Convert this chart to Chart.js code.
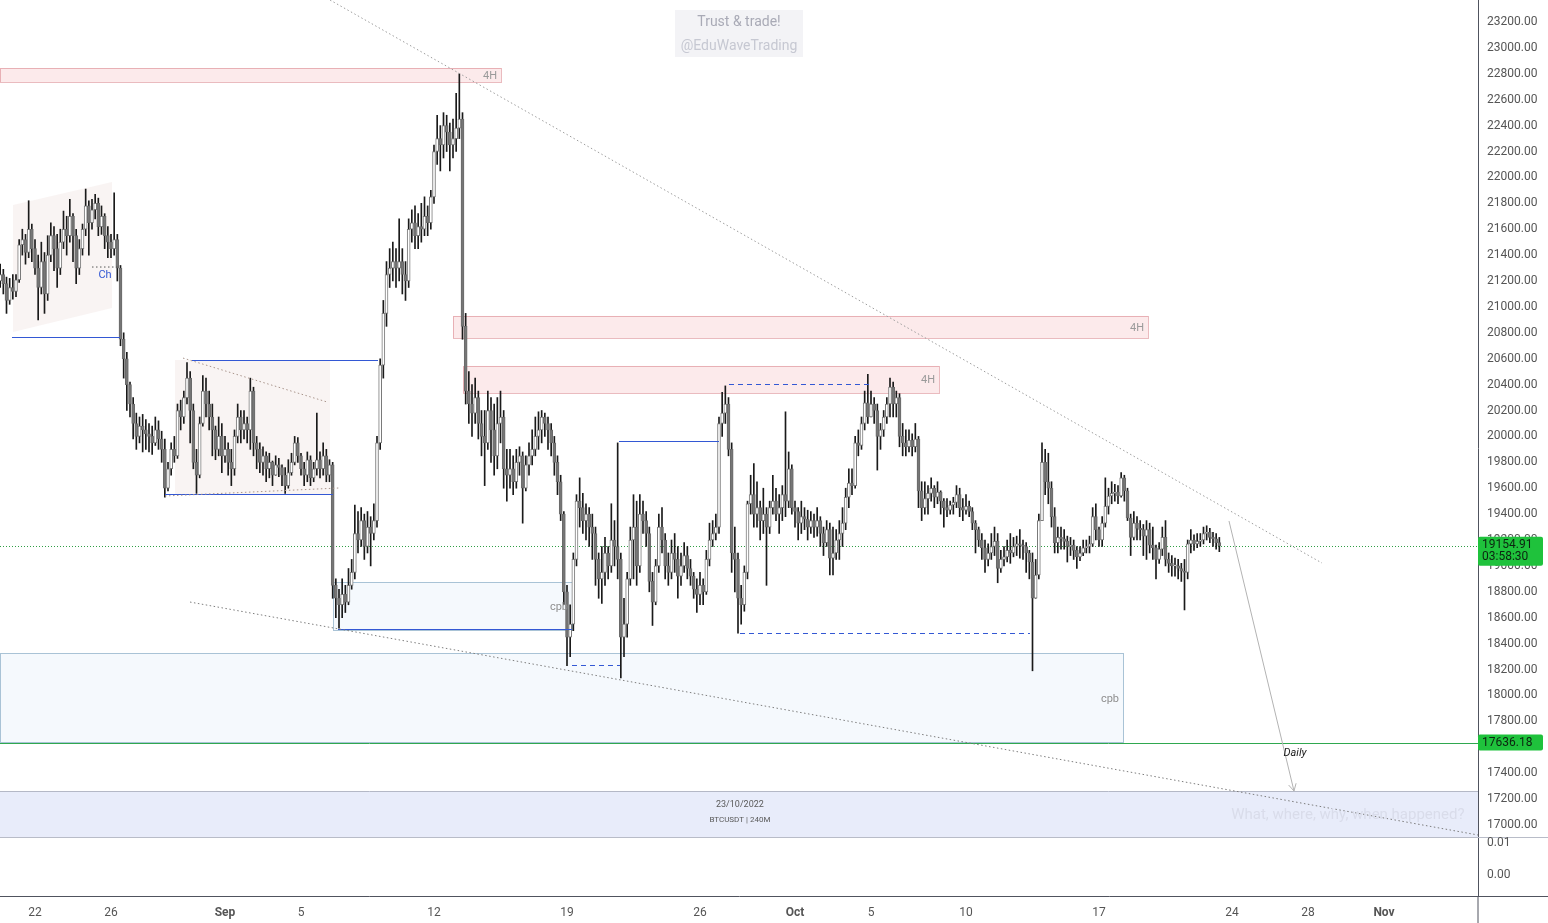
<!DOCTYPE html>
<html><head><meta charset="utf-8">
<script src="https://cdn.jsdelivr.net/npm/chart.js@4.4.0/dist/chart.umd.min.js"></script>
<style>html,body{margin:0;padding:0;background:#fff;overflow:hidden}canvas{display:block}</style>
</head><body>
<canvas id="c" width="1548" height="923"></canvas>
<script>
// ---------------- DATA (BTCUSDT, 4H candles) ----------------
const firstCandleUTC = Date.UTC(2022, 7, 20, 4);   // Aug 20, 04:00
const axisOriginUTC  = Date.UTC(2022, 7, 22);      // x = 0 at Aug 22
const candleHours = 4;
const firstOpen = 21200;

const closes = [
 21250,21180,21050,21150,21120,                 // Aug 20
 21210,21480,21520,21420,21600,21450,           // Aug 21
 21300,21150,21350,21100,21400,21550,           // Aug 22
 21450,21300,21500,21600,21550,21700,           // Aug 23
 21550,21300,21450,21600,21780,21650,           // Aug 24
 21750,21800,21620,21700,21550,21500,           // Aug 25
 21450,21520,21300,20750,20600,20400,           // Aug 26
 20250,20100,20000,20080,20050,20020,           // Aug 27
 20000,19950,20050,19980,19900,19600,           // Aug 28
 19750,19900,19850,20200,20150,20300,           // Aug 29
 20450,20200,19800,19700,20100,20350,           // Aug 30
 20250,20150,20050,19900,20000,19850,           // Aug 31
 19900,19800,19750,20000,20150,20050,           // Sep 1
 20100,20050,20350,19950,19900,19800,           // Sep 2
 19850,19750,19800,19700,19780,19760,           // Sep 3
 19700,19620,19720,19800,19950,19850,           // Sep 4
 19750,19700,19820,19680,19750,19820,           // Sep 5
 19750,19850,19700,19780,18850,18750,           // Sep 6
 18700,18780,18720,18850,18950,19250,           // Sep 7
 19200,19350,19150,19300,19250,19350,           // Sep 8
 19950,20550,20950,21250,21300,21350,           // Sep 9
 21300,21350,21250,21200,21600,21650,           // Sep 10
 21550,21620,21600,21700,21650,21850,           // Sep 11
 22200,22300,22250,22400,22350,22250,           // Sep 12
 22300,22380,22450,20850,20350,20250,           // Sep 13
 20180,20300,20100,20000,19950,20200,           // Sep 14
 20050,19850,20100,20150,19750,19700,           // Sep 15
 19750,19650,19800,19850,19600,19780,           // Sep 16
 19850,19900,20000,20050,20150,20100,           // Sep 17
 20050,19950,19800,19650,19400,18800,           // Sep 18
 18450,18550,19050,19500,19450,19350,           // Sep 19
 19400,19300,19250,19050,18900,18950,           // Sep 20
 19100,19000,19200,19150,19050,18450,           // Sep 21
 18550,18900,19200,19300,19000,19400,           // Sep 22
 19350,19250,18880,18720,19000,19300,           // Sep 23
 19200,19000,18950,19100,19050,18920,           // Sep 24
 19000,19080,18980,18920,18820,18780,           // Sep 25
 18850,18800,19050,19200,19250,19300,           // Sep 26
 20100,20180,20250,19900,19100,19050,           // Sep 27
 18750,18700,18950,19480,19550,19400,           // Sep 28
 19450,19350,19400,19300,19450,19500,           // Sep 29
 19400,19450,19550,19500,19750,19450,           // Sep 30
 19420,19330,19380,19360,19300,19350,           // Oct 1
 19300,19350,19250,19180,19280,19060,           // Oct 2
 19100,19200,19250,19330,19530,19640,           // Oct 3
 19620,19950,19930,20100,20260,20150,           // Oct 4
 20250,20200,20000,20050,20150,20250,           // Oct 5
 20380,20250,20300,20000,19950,19920,           // Oct 6
 19970,19920,19980,19580,19450,19520,           // Oct 7
 19560,19600,19530,19570,19500,19450,           // Oct 8
 19430,19470,19490,19550,19450,19430,           // Oct 9
 19460,19420,19330,19280,19200,19140,           // Oct 10
 19050,19100,19150,19190,18980,19050,           // Oct 11
 19070,19120,19100,19150,19170,19160,           // Oct 12
 19150,19100,19030,18750,18930,19350,           // Oct 13
 19800,19650,19600,19380,19180,19220,           // Oct 14
 19210,19190,19150,19160,19120,19070,           // Oct 15
 19100,19140,19150,19170,19380,19280,           // Oct 16
 19200,19330,19460,19540,19560,19570,           // Oct 17
 19540,19680,19580,19370,19220,19330,           // Oct 18
 19290,19280,19230,19280,19160,19140,           // Oct 19
 19050,19130,19220,19050,19020,19000,           // Oct 20
 19000,18980,18960,18950,19170,19200,           // Oct 21
 19170,19190,19200,19250,19260,19220,           // Oct 22
 19210,19180,19154.91                           // Oct 23
];
const highs = [
 21330,21290,21230,21220,21250,
 21250,21520,21600,21560,21820,21640,
 21520,21400,21500,21420,21550,21650,
 21620,21560,21600,21740,21700,21830,
 21720,21600,21520,21640,21910,21820,
 21830,21870,21840,21780,21720,21620,
 21560,21880,21560,21320,20800,20650,
 20420,20300,20180,20150,20170,20130,
 20100,20080,20150,20120,20040,19980,
 19800,19950,20000,20250,20280,20350,
 20570,20500,20250,19900,20150,20470,
 20450,20350,20250,20080,20150,20100,
 20000,19950,19900,20050,20250,20200,
 20200,20150,20450,20380,20000,19950,
 19920,19880,19870,19810,19850,19830,
 19780,19760,19820,19870,20000,19990,
 19870,19800,19880,19850,19800,20180,
 19880,19950,19900,19820,19800,18900,
 18820,18900,18850,18980,19050,19470,
 19420,19450,19400,19420,19380,19480,
 20000,20600,21050,21350,21450,21500,
 21450,21680,21450,21350,21680,21750,
 21780,21720,21800,21850,21780,21900,
 22250,22480,22400,22500,22480,22420,
 22450,22650,22800,22500,20950,20500,
 20400,20450,20350,20200,20200,20350,
 20300,20250,20300,20350,20200,19900,
 19900,19850,19900,19920,19880,19850,
 19950,20050,20150,20190,20200,20180,
 20150,20100,20000,19850,19700,19420,
 18850,18700,19100,19550,19680,19560,
 19480,19450,19400,19300,19100,19150,
 19220,19150,19480,19350,19950,19100,
 18750,18950,19300,19550,19500,19550,
 19500,19420,19300,18950,19050,19400,
 19450,19250,19100,19200,19250,19150,
 19100,19180,19150,19050,18950,18900,
 18950,18900,19120,19330,19350,19400,
 20150,20340,20390,20300,19950,19300,
 19100,18850,19000,19500,19700,19790,
 19650,19500,19600,19450,19500,19700,
 19600,19550,19620,20190,19880,19780,
 19500,19450,19500,19450,19430,19420,
 19400,19450,19380,19300,19350,19330,
 19300,19280,19350,19450,19600,19750,
 19750,20000,20050,20150,20350,20480,
 20350,20300,20250,20100,20200,20300,
 20450,20420,20350,20330,20100,20050,
 20050,20020,20100,20000,19650,19650,
 19620,19680,19620,19650,19580,19520,
 19520,19500,19530,19620,19600,19520,
 19550,19500,19450,19350,19300,19250,
 19200,19170,19250,19300,19250,19120,
 19150,19200,19250,19220,19230,19280,
 19200,19180,19120,19100,19050,19400,
 19950,19900,19870,19650,19450,19300,
 19300,19280,19230,19220,19200,19150,
 19150,19200,19200,19230,19450,19480,
 19300,19380,19680,19600,19650,19630,
 19620,19720,19700,19600,19400,19420,
 19380,19350,19320,19350,19330,19300,
 19160,19180,19300,19350,19100,19080,
 19060,19050,19020,19050,19200,19280,
 19240,19250,19250,19300,19310,19290,
 19260,19250,19220
];
const lows = [
 21150,21100,20950,21020,21060,
 21080,21190,21400,21330,21380,21350,
 21250,20900,21100,20950,21050,21350,
 21280,21150,21250,21450,21400,21500,
 21350,21180,21250,21400,21550,21400,
 21600,21680,21550,21560,21450,21380,
 21380,21400,21200,20700,20450,20200,
 20150,19980,19900,19950,19880,19900,
 19880,19860,19930,19900,19800,19530,
 19580,19700,19800,19830,20050,20100,
 20250,19950,19750,19560,19680,20080,
 20150,20050,19850,19820,19850,19720,
 19800,19700,19620,19700,19950,19950,
 19980,19950,19900,19850,19750,19720,
 19700,19650,19680,19620,19700,19690,
 19620,19560,19600,19700,19780,19800,
 19700,19620,19650,19620,19650,19700,
 19680,19700,19650,19650,18750,18600,
 18520,18600,18640,18700,18820,18900,
 19100,19150,19050,19100,19000,19200,
 19300,19900,20450,20850,21150,21200,
 21150,21200,21100,21050,21150,21500,
 21450,21450,21500,21550,21550,21600,
 21800,22100,22050,22150,22200,22050,
 22150,22200,22300,20750,20250,20100,
 20000,20100,19980,19850,19620,19900,
 19800,19700,19750,19950,19600,19500,
 19600,19550,19600,19700,19330,19580,
 19700,19780,19850,19900,19950,20000,
 19900,19850,19700,19550,19350,18700,
 18230,18300,18500,19000,19300,19250,
 19200,19150,19050,18850,18750,18710,
 18850,18900,18950,19000,18900,18135,
 18300,18450,18850,18900,18850,18950,
 19250,19150,18800,18540,18700,18950,
 19100,18900,18850,18900,18950,18750,
 18850,18950,18900,18850,18750,18640,
 18700,18700,18780,19000,19150,19200,
 19250,20000,20100,19850,18950,18800,
 18480,18550,18650,18900,19400,19300,
 19300,19200,19250,18850,19250,19400,
 19350,19250,19350,19380,19450,19400,
 19300,19200,19250,19280,19200,19250,
 19220,19230,19150,19080,19150,18930,
 18930,19050,19050,19150,19280,19450,
 19550,19600,19850,19900,20050,20100,
 20150,20100,19740,19900,20000,20100,
 20150,20150,20150,19920,19850,19850,
 19880,19850,19880,19450,19350,19400,
 19400,19500,19450,19480,19400,19300,
 19380,19400,19400,19450,19380,19350,
 19400,19380,19280,19100,19150,19050,
 18950,19000,19050,19080,18870,18950,
 19000,19030,19020,19070,19080,19060,
 19050,18950,18900,18190,18850,18900,
 19350,19550,19480,19300,19100,19100,
 19130,19130,19030,19080,19050,18980,
 19040,19080,19100,19100,19150,19200,
 19150,19150,19300,19400,19480,19500,
 19480,19530,19500,19350,19080,19200,
 19200,19200,19080,19050,19100,19050,
 18900,19020,19080,19000,18950,18920,
 18920,18900,18880,18660,18900,19100,
 19120,19140,19150,19170,19200,19180,
 19150,19130,19110
];

const tickDates  = ['2022-08-22','2022-08-26','2022-09-01','2022-09-05','2022-09-12','2022-09-19','2022-09-26','2022-10-01','2022-10-05','2022-10-10','2022-10-17','2022-10-24','2022-10-28','2022-11-01'];
const tickLabels = ['22','26','Sep','5','12','19','26','Oct','5','10','17','24','28','Nov'];
const monthLabels = ['Sep','Oct','Nov'];
const priceTicks = [23200,23000,22800,22600,22400,22200,22000,21800,21600,21400,21200,21000,20800,20600,20400,20200,20000,19800,19600,19400,19200,19000,18800,18600,18400,18200,18000,17800,17600,17400,17200,17000];
const lastPrice = 19154.91;
const lastCountdown = '03:58:30';
const dailyLevel = 17636.18;
const indicatorLabels = ['0.01','0.00'];

// ---------------- DRAWINGS (time in days from Aug 22, price in USDT) ----------------
const supplyZones = [
  {from:-1.842, to:24.526, hi:22845, lo:22737, label:'4H'},
  {from:22.0,   to:58.579, hi:20930, lo:20760, label:'4H'},
  {from:22.526, to:47.579, hi:20544, lo:20335, label:'4H'}
];
const demandZones = [
  {from:15.684, to:28.263, hi:18876, lo:18505, label:'cpb'},
  {from:-1.842, to:57.263, hi:18327, lo:dailyLevel, label:'cpb'}
];
const channelShade = [[-1.158,21787],[4.053,21965],[4.053,20992],[-1.158,20806]];
const rangeShade = {from:7.368, to:15.526, hi:20590, lo:19547};
const structureLines = [
  {from:-1.211, to:4.474,  p:20768},
  {from:8.263,  to:18.053, p:20590},
  {from:6.842,  to:15.684, p:19555},
  {from:15.947, to:28.263, p:18513},
  {from:30.737, to:36.0,   p:19964}
];
const dashedLevels = [
  {from:36.526, to:43.895, p:20405},
  {from:37.105, to:52.368, p:18482},
  {from:28.263, to:30.789, p:18235}
];
const dottedLines = [
  {a:[15.526,23370], b:[67.737,19022], color:'#9c9c9c'},
  {a:[8.158,18721],  b:[75.947,16922], color:'#7d7d7d'},
  {a:[7.789,20605],  b:[15.368,20266], color:'#a8948b'},
  {a:[6.842,19540],  b:[16.053,19602], color:'#a8948b'},
  {a:[3.0,21308],    b:[4.368,21308],  color:'#555555'}
];
const projectionArrow = {a:[62.842,19347], b:[66.263,17262]};
const infoBox = {hi:17262, lo:16907, mid:37.1, line1:17154, line2:17038};

// ---------------- BUILD ----------------
const dayMs = 86400000;
const xs = closes.map((_, i) => (firstCandleUTC + i * candleHours * 3600000 - axisOriginUTC) / dayMs);
const opens = closes.map((c, i) => i === 0 ? firstOpen : closes[i - 1]);
const wickData = closes.map((c, i) => ({x: xs[i], y: [Math.min(lows[i], opens[i], c), Math.max(highs[i], opens[i], c)]}));
const bodyData = closes.map((c, i) => ({x: xs[i], y: [opens[i], c]}));
const bodyFill = closes.map((c, i) => c >= opens[i] ? '#ffffff' : '#767676');
const bodyBorder = closes.map((c, i) => c >= opens[i] ? '#7a7a7a' : '#6a6a6a');
const tickDays = tickDates.map(s => (Date.parse(s + 'T00:00:00Z') - axisOriginUTC) / dayMs);

const FONT = 'Roboto, "Liberation Sans", sans-serif';
Chart.defaults.font.family = FONT;
const BLUE = '#3358d4';

const overlay = {
  id: 'overlay',
  beforeDatasetsDraw(chart) {
    const {ctx, chartArea: ca, scales: {x, y}} = chart;
    const X = v => x.getPixelForValue(v), Y = v => y.getPixelForValue(v);
    ctx.save();
    ctx.beginPath(); ctx.rect(ca.left, ca.top, ca.right - ca.left, Y(infoBox.lo) - ca.top); ctx.clip();
    // pattern shades
    ctx.fillStyle = 'rgba(240,228,224,0.4)';
    ctx.beginPath();
    channelShade.forEach((pt, i) => { const px = X(pt[0]), py = Y(pt[1]); i ? ctx.lineTo(px, py) : ctx.moveTo(px, py); });
    ctx.closePath(); ctx.fill();
    ctx.fillRect(X(rangeShade.from), Y(rangeShade.hi), X(rangeShade.to) - X(rangeShade.from), Y(rangeShade.lo) - Y(rangeShade.hi));
    // demand boxes
    demandZones.forEach(z => {
      const l = X(z.from), r = X(z.to), t = Y(z.hi), b = Y(z.lo);
      ctx.fillStyle = 'rgba(225,238,250,0.35)';
      ctx.fillRect(l, t, r - l, b - t);
      ctx.strokeStyle = '#a9c3d6'; ctx.lineWidth = 1;
      ctx.strokeRect(Math.round(l) + 0.5, Math.round(t) + 0.5, Math.round(r - l), Math.round(b - t));
    });
    // supply boxes
    supplyZones.forEach(z => {
      const l = X(z.from), r = X(z.to), t = Y(z.hi), b = Y(z.lo);
      ctx.fillStyle = 'rgba(242,160,165,0.22)';
      ctx.fillRect(l, t, r - l, b - t);
      ctx.strokeStyle = 'rgba(214,120,128,0.5)'; ctx.lineWidth = 1;
      ctx.strokeRect(Math.round(l) + 0.5, Math.round(t) + 0.5, Math.round(r - l), Math.round(b - t));
    });
    // info box
    ctx.fillStyle = '#e8ecfa';
    const it = Y(infoBox.hi), ib = Y(infoBox.lo);
    ctx.fillRect(ca.left, it, ca.right - ca.left, ib - it);
    ctx.strokeStyle = '#b4b8c6';
    ctx.beginPath(); ctx.moveTo(ca.left, Math.round(it) + 0.5); ctx.lineTo(ca.right, Math.round(it) + 0.5); ctx.stroke();
    // daily level
    ctx.strokeStyle = '#2fa84f'; ctx.lineWidth = 1;
    ctx.beginPath(); ctx.moveTo(ca.left, Math.round(Y(dailyLevel)) + 0.5); ctx.lineTo(ca.right, Math.round(Y(dailyLevel)) + 0.5); ctx.stroke();
    // last price dotted
    ctx.strokeStyle = '#2f9e44'; ctx.setLineDash([1, 2]);
    ctx.beginPath(); ctx.moveTo(ca.left, Math.round(Y(lastPrice)) + 0.5); ctx.lineTo(ca.right, Math.round(Y(lastPrice)) + 0.5); ctx.stroke();
    ctx.setLineDash([]);
    ctx.restore();
  },
  afterDatasetsDraw(chart) {
    const {ctx, chartArea: ca, scales: {x, y}} = chart;
    const X = v => x.getPixelForValue(v), Y = v => y.getPixelForValue(v);
    ctx.save();
    ctx.beginPath(); ctx.rect(ca.left, ca.top, ca.right - ca.left, Y(infoBox.lo) - ca.top); ctx.clip();
    ctx.lineWidth = 1;
    // structure lines
    ctx.strokeStyle = BLUE;
    structureLines.forEach(s => { const yy = Math.round(Y(s.p)) + 0.5; ctx.beginPath(); ctx.moveTo(X(s.from), yy); ctx.lineTo(X(s.to), yy); ctx.stroke(); });
    ctx.setLineDash([5, 4]);
    dashedLevels.forEach(s => { const yy = Math.round(Y(s.p)) + 0.5; ctx.beginPath(); ctx.moveTo(X(s.from), yy); ctx.lineTo(X(s.to), yy); ctx.stroke(); });
    // dotted trendlines
    ctx.setLineDash([1.5, 2.5]);
    dottedLines.forEach(d => { ctx.strokeStyle = d.color; ctx.beginPath(); ctx.moveTo(X(d.a[0]), Y(d.a[1])); ctx.lineTo(X(d.b[0]), Y(d.b[1])); ctx.stroke(); });
    ctx.setLineDash([]);
    // arrow
    const ax = X(projectionArrow.a[0]), ay = Y(projectionArrow.a[1]), bx = X(projectionArrow.b[0]), by = Y(projectionArrow.b[1]);
    ctx.strokeStyle = '#b3b3b3';
    ctx.beginPath(); ctx.moveTo(ax, ay); ctx.lineTo(bx, by); ctx.stroke();
    const ang = Math.atan2(by - ay, bx - ax);
    ctx.beginPath();
    ctx.moveTo(bx - 8 * Math.cos(ang - 0.5), by - 8 * Math.sin(ang - 0.5)); ctx.lineTo(bx, by);
    ctx.lineTo(bx - 8 * Math.cos(ang + 0.5), by - 8 * Math.sin(ang + 0.5)); ctx.stroke();
    // zone labels
    ctx.font = '11px ' + FONT; ctx.textBaseline = 'middle'; ctx.textAlign = 'right';
    ctx.fillStyle = '#9a9a9a';
    supplyZones.forEach(z => ctx.fillText(z.label, X(z.to) - 4, (Y(z.hi) + Y(z.lo)) / 2 + 1));
    ctx.fillStyle = '#8f8f8f';
    demandZones.forEach(z => ctx.fillText(z.label, X(z.to) - 4, (Y(z.hi) + Y(z.lo)) / 2 + 1));
    ctx.textAlign = 'center';
    ctx.fillStyle = BLUE; ctx.fillText('Ch', X(3.684), Y(21246));
    ctx.font = 'italic 11px ' + FONT; ctx.fillStyle = '#222';
    ctx.fillText('Daily', X(66.316), Y(17555));
    // info box texts
    ctx.font = '9px ' + FONT; ctx.fillStyle = '#5a5a5a';
    ctx.fillText('23/10/2022', X(infoBox.mid), Y(infoBox.line1));
    ctx.font = '8px ' + FONT;
    ctx.fillText('BTCUSDT | 240M', X(infoBox.mid), Y(infoBox.line2));
    ctx.font = '15px ' + FONT; ctx.fillStyle = '#d9dcea';
    ctx.fillText('What, where, why, when happened?', X(69.1), Y(17076));
    ctx.restore();

    // watermark
    ctx.save();
    ctx.fillStyle = '#f3f3f6';
    ctx.fillRect(675, 10, 128, 47);
    ctx.font = '14px ' + FONT; ctx.textAlign = 'center'; ctx.textBaseline = 'middle';
    ctx.fillStyle = '#a9aab6'; ctx.fillText('Trust & trade!', 739, 22);
    ctx.fillStyle = '#c6c8d2'; ctx.fillText('@EduWaveTrading', 739, 46);
    ctx.restore();
  },
  afterDraw(chart) {
    const {ctx, chartArea: ca, scales: {y}} = chart;
    const W = chart.width, H = chart.height;
    ctx.save();
    // pane separator
    const sep = Math.round(y.getPixelForValue(infoBox.lo)) + 0.5;
    ctx.strokeStyle = '#b8bcc8'; ctx.lineWidth = 1;
    ctx.beginPath(); ctx.moveTo(0, sep); ctx.lineTo(W, sep); ctx.stroke();
    // axis frame extensions
    ctx.strokeStyle = '#50535e';
    ctx.beginPath(); ctx.moveTo(ca.right, ca.bottom); ctx.lineTo(ca.right, H); ctx.stroke();
    ctx.beginPath(); ctx.moveTo(ca.right, Math.round(ca.bottom) + 0.5); ctx.lineTo(W, Math.round(ca.bottom) + 0.5); ctx.stroke();
    // indicator pane labels
    ctx.font = '12px ' + FONT; ctx.fillStyle = '#555'; ctx.textAlign = 'left'; ctx.textBaseline = 'middle';
    ctx.fillText(indicatorLabels[0], ca.right + 9, sep + 5);
    ctx.fillText(indicatorLabels[1], ca.right + 9, sep + 37);
    // price tags
    const tag = (p, lines) => {
      const cy = y.getPixelForValue(p);
      const h = lines.length === 1 ? 16 : 29;
      const top = lines.length === 1 ? cy - 8 : cy - 9;
      ctx.fillStyle = '#1fc23c';
      ctx.beginPath(); ctx.roundRect(ca.right, top, 65, h, 2); ctx.fill();
      ctx.fillStyle = '#0c2410'; ctx.font = '12px ' + FONT;
      lines.forEach((t, i) => ctx.fillText(t, ca.right + 4, top + 8 + i * 12.5));
    };
    tag(lastPrice, [lastPrice.toFixed(2), lastCountdown]);
    tag(dailyLevel, [dailyLevel.toFixed(2)]);
    ctx.restore();
  }
};

new Chart(document.getElementById('c'), {
  type: 'bar',
  data: {
    datasets: [
      {label: 'wick', data: wickData, backgroundColor: '#1a1a1a', barThickness: 1, grouped: false, order: 2},
      {label: 'body', data: bodyData, backgroundColor: bodyFill, borderColor: bodyBorder, borderWidth: 1,
       borderSkipped: false, barThickness: 3, minBarLength: 1, grouped: false, order: 1}
    ]
  },
  options: {
    responsive: false, animation: false, events: [],
    layout: {padding: 0},
    plugins: {legend: {display: false}, tooltip: {enabled: false}},
    scales: {
      x: {
        type: 'linear', offset: false, bounds: 'data',
        min: -35 / 19, max: 1443 / 19,
        grid: {display: false, drawTicks: false},
        border: {display: true, color: '#50535e'},
        ticks: {
          autoSkip: false, maxRotation: 0, padding: 10, color: '#555',
          font: c => ({size: 12, family: FONT, weight: (c.tick && monthLabels.includes(c.tick.label)) ? 'bold' : 'normal'}),
          callback: (v, i) => tickLabels[i]
        },
        afterBuildTicks: s => { s.ticks = tickDays.map(v => ({value: v})); },
        afterFit: s => { s.height = 27; s.paddingLeft = 0; s.paddingRight = 0; }
      },
      y: {
        type: 'linear', position: 'right', bounds: 'data',
        min: 16451, max: 23370,
        grid: {display: false, drawTicks: false},
        border: {display: true, color: '#50535e'},
        ticks: {padding: 9, color: '#555', font: {size: 12, family: FONT}, callback: v => v.toFixed(2)},
        afterBuildTicks: s => { s.ticks = priceTicks.map(v => ({value: v})); },
        afterFit: s => { s.width = 70; s.paddingTop = 0; s.paddingBottom = 0; }
      }
    }
  },
  plugins: [overlay]
});
</script>
</body></html>
